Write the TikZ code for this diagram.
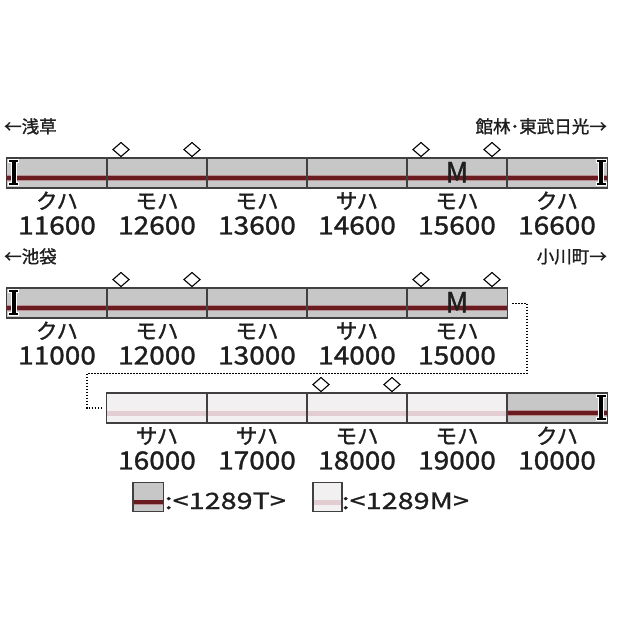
\documentclass[tikz,border=0pt]{standalone}
\usepackage{fontspec}
\setmainfont{Noto Sans CJK JP}
\newfontfamily\jpfont[FakeBold=1.3]{Noto Sans CJK JP}
\newfontfamily\widefont[FakeStretch=1.28,FakeBold=1.0]{Noto Sans CJK JP}
\newfontfamily\numfont[FakeStretch=1.12,FakeBold=1.3]{Noto Sans CJK JP}
\usetikzlibrary{shapes.geometric}
\definecolor{tgrey}{HTML}{C7C7C7}
\definecolor{tred}{HTML}{6A1B20}
\definecolor{tpink}{HTML}{B88E93}
\definecolor{mfill}{HTML}{F2F0F0}
\definecolor{mstripe}{HTML}{E2CED2}
\definecolor{edge}{HTML}{404040}
\definecolor{ink}{HTML}{1E1E1E}
\begin{document}
\begin{tikzpicture}[x=1pt,y=-1pt,
  car/.style={rectangle,inner sep=0pt,minimum width=100pt,minimum height=29.5pt,draw=none},
  tcar/.style={car,fill=tgrey},
  mcar/.style={car,fill=mfill},
  outline/.style={draw=edge,line width=1.3pt},
  redunder/.style={draw=tpink,line width=6pt},
  redline/.style={draw=tred,line width=3.8pt},
  pinkline/.style={draw=mstripe,line width=5pt},
  panto/.style={diamond,draw=black,fill=white,line width=1.1pt,inner sep=0pt,minimum width=16.5pt,minimum height=14.5pt},
  kana/.style={font=\jpfont\fontsize{21.5}{21.5}\selectfont,text=ink,anchor=base,inner sep=0pt},
  num/.style={font=\numfont\fontsize{25}{25}\selectfont,text=ink,anchor=base,inner sep=0pt},
  head/.style={font=\jpfont\fontsize{17.5}{17.5}\selectfont,text=ink,inner sep=0pt},
  motor/.style={font=\jpfont\fontsize{28}{28}\selectfont,text=ink,anchor=base,inner sep=0pt},
  legend/.style={font=\widefont\fontsize{22.5}{22.5}\selectfont,text=ink,anchor=base west,inner sep=0pt},
  conn/.style={draw=black,line width=1.5pt,dash pattern=on 1.5pt off 1.5pt},
  endmark/.pic={
    \draw[white,line width=6pt] (0,-12)--(0,12);
    \draw[white,line width=4.5pt] (-5.6,-11.5)--(5.6,-11.5) (-5.6,11.5)--(5.6,11.5);
    \draw[black,line width=4pt] (0,-11.5)--(0,11.5);
    \draw[black,line width=2.6pt] (-4.6,-11.5)--(4.6,-11.5) (-4.6,11.5)--(4.6,11.5);
  }
]
\useasboundingbox (0,0) rectangle (639,639);

% headers
\node[head,anchor=base west] (h1) at (4,133) {←浅草};
\node[head,anchor=base east] (h2) at (607,133) {館林･東武日光→};
\node[head,anchor=base west] (h3) at (4,263) {←池袋};
\node[head,anchor=base east] (h4) at (607,263) {小川町→};

% ---------- row 1 ----------
\foreach \i in {1,...,6} \node[tcar] (a\i) at ({100*\i-43},173) {};
\draw[redunder] ([yshift=-5pt]a1.west) -- ([yshift=-5pt]a6.east);
\draw[redline] ([yshift=-5pt]a1.west) -- ([yshift=-5pt]a6.east);
\foreach \i in {1,...,6} \draw[outline] (a\i.north west) rectangle (a\i.south east);
\foreach \k/\n [count=\i] in {クハ/11600,モハ/12600,モハ/13600,サハ/14600,モハ/15600,クハ/16600}{
  \node[kana] (ak\i) at ([yshift=-21pt]a\i.south) {\k};
  \node[num] (an\i) at ([yshift=-46.5pt]a\i.south) {\n};
}
\node[panto] (ap1) at ([xshift=-36pt,yshift=8.5pt]a2.north) {};
\node[panto] (ap2) at ([xshift=35pt,yshift=8.5pt]a2.north) {};
\node[panto] (ap3) at ([xshift=-36pt,yshift=8.5pt]a5.north) {};
\node[panto] (ap4) at ([xshift=35pt,yshift=8.5pt]a5.north) {};
\node[motor] (am) at ([yshift=-9.5pt]a5.center) {M};
\pic at ([xshift=7pt,yshift=0.5pt]a1.west) {endmark};
\pic at ([xshift=-6pt,yshift=0.5pt]a6.east) {endmark};

% ---------- row 2 ----------
\foreach \i in {1,...,5} \node[tcar] (b\i) at ({100*\i-43},303) {};
\draw[redunder] ([yshift=-5pt]b1.west) -- ([yshift=-5pt]b5.east);
\draw[redline] ([yshift=-5pt]b1.west) -- ([yshift=-5pt]b5.east);
\foreach \i in {1,...,5} \draw[outline] (b\i.north west) rectangle (b\i.south east);
\foreach \k/\n [count=\i] in {クハ/11000,モハ/12000,モハ/13000,サハ/14000,モハ/15000}{
  \node[kana] (bk\i) at ([yshift=-21pt]b\i.south) {\k};
  \node[num] (bn\i) at ([yshift=-46.5pt]b\i.south) {\n};
}
\node[panto] (bp1) at ([xshift=-36pt,yshift=8.5pt]b2.north) {};
\node[panto] (bp2) at ([xshift=35pt,yshift=8.5pt]b2.north) {};
\node[panto] (bp3) at ([xshift=-36pt,yshift=8.5pt]b5.north) {};
\node[panto] (bp4) at ([xshift=35pt,yshift=8.5pt]b5.north) {};
\node[motor] (bm) at ([yshift=-9.5pt]b5.center) {M};
\pic at ([xshift=7pt,yshift=0.5pt]b1.west) {endmark};

% ---------- row 3 ----------
\foreach \i in {1,...,4} \node[mcar] (c\i) at ({100*\i+57},408) {};
\node[tcar] (c5) at (557,408) {};
\draw[pinkline] ([yshift=-5pt]c1.west) -- ([yshift=-5pt]c4.east);
\draw[redunder] ([yshift=-5pt]c5.west) -- ([yshift=-5pt]c5.east);
\draw[redline] ([yshift=-5pt]c5.west) -- ([yshift=-5pt]c5.east);
\foreach \i in {1,...,5} \draw[outline] (c\i.north west) rectangle (c\i.south east);
\foreach \k/\n [count=\i] in {サハ/16000,サハ/17000,モハ/18000,モハ/19000,クハ/10000}{
  \node[kana] (ck\i) at ([yshift=-21pt]c\i.south) {\k};
  \node[num] (cn\i) at ([yshift=-46.5pt]c\i.south) {\n};
}
\node[panto] (cp1) at ([xshift=-36pt,yshift=8.5pt]c3.north) {};
\node[panto] (cp2) at ([xshift=35pt,yshift=8.5pt]c3.north) {};
\pic at ([xshift=-6pt,yshift=0.5pt]c5.east) {endmark};

% ---------- dotted connector ----------
\coordinate (d1) at (527,373.5);
\coordinate (d2) at (87,373.5);
\draw[conn] ([xshift=5pt,yshift=-0.5pt]b5.east) -| (d1) -- (d2) |- ([xshift=-5pt]c1.west);

% ---------- legend ----------
\node[car,fill=tgrey,minimum width=30pt,minimum height=28.5pt] (lt) at (148.3,497.2) {};
\draw[redunder,line width=5pt] ([yshift=-5pt]lt.west) -- ([yshift=-5pt]lt.east);
\draw[redline,line width=3.6pt] ([yshift=-5pt]lt.west) -- ([yshift=-5pt]lt.east);
\draw[outline] (lt.north west) rectangle (lt.south east);
\node[legend] (ltt) at (164.5,509) {:<1289T>};
\node[car,fill=mfill,minimum width=28.5pt,minimum height=28.5pt] (lm) at (327.5,497.2) {};
\draw[pinkline] ([yshift=-5pt]lm.west) -- ([yshift=-5pt]lm.east);
\draw[outline] (lm.north west) rectangle (lm.south east);
\node[legend] (lmt) at (341.5,509) {:<1289M>};
\end{tikzpicture}
\end{document}
